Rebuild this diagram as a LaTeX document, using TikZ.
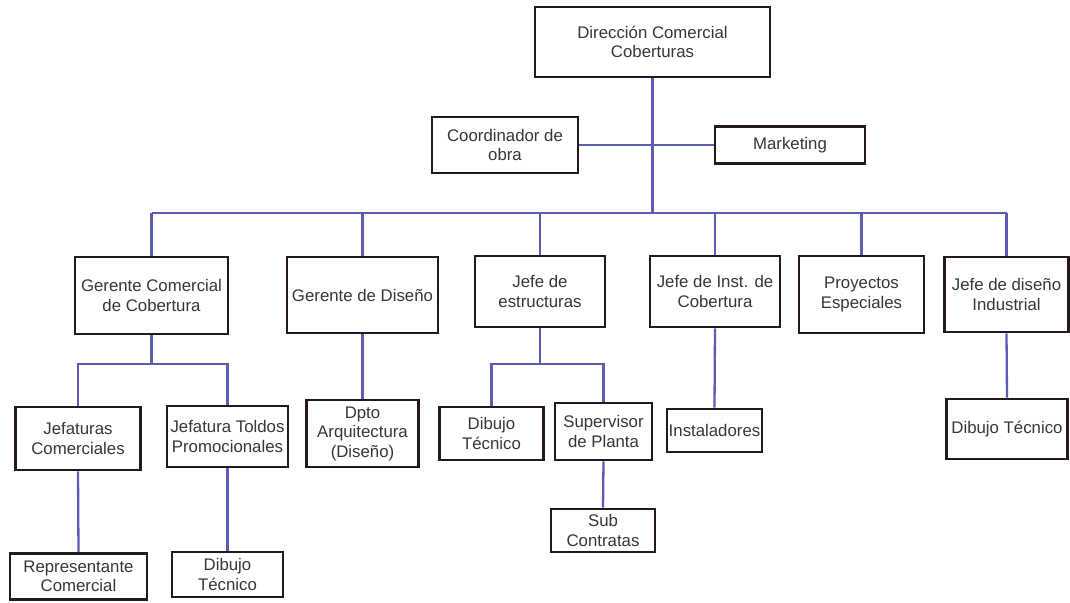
\documentclass[tikz,border=0pt]{standalone}
\usepackage{fontspec}
\setmainfont{Liberation Sans}
\begin{document}
\definecolor{wire}{RGB}{92,92,182}
\definecolor{frame}{RGB}{36,26,28}
\definecolor{ink}{RGB}{60,52,54}
\begin{tikzpicture}[x=1pt,y=-1pt,
  box/.style={draw=frame, line width=2.8pt, fill=white, inner sep=0pt,
    align=center, text=ink, font=\fontsize{16.8}{19.5}\selectfont},
  link/.style={draw=wire, line width=2.3pt}]
\useasboundingbox[fill=white] (0,0) rectangle (1070,602);

% top level
\node[box, minimum width=235, minimum height=70] (dir) at (652.5,42) {Dirección Comercial\\Coberturas};
\node[box, minimum width=146, minimum height=56] (coord) at (505,145) {Coordinador de\\obra};
\node[box, minimum width=150, minimum height=37] (mkt) at (790,145) {Marketing};

% second level
\node[box, minimum width=153, minimum height=77] (gcom) at (151.5,295.5) {Gerente Comercial\\de Cobertura};
\node[box, minimum width=151, minimum height=76] (gdis) at (362.5,295) {Gerente de Diseño};
\node[box, minimum width=130, minimum height=71] (jest) at (540,291.5) {Jefe de\\estructuras};
\node[box, minimum width=130, minimum height=71] (jinst) at (715,291.5) {Jefe de Inst. de\\Cobertura};
\node[box, minimum width=125, minimum height=77] (proy) at (861.5,294.5) {Proyectos\\Especiales};
\node[box, minimum width=124, minimum height=75] (jind) at (1006.5,294.5) {Jefe de diseño\\Industrial};

% third level
\node[box, minimum width=125, minimum height=63] (jcom) at (78,438.5) {Jefaturas\\Comerciales};
\node[box, minimum width=121, minimum height=61] (jtol) at (227.5,436.5) {Jefatura Toldos\\Promocionales};
\node[box, minimum width=112, minimum height=67] (dpto) at (362.5,433.5) {Dpto\\Arquitectura\\(Diseño)};
\node[box, minimum width=104, minimum height=53] (dtest) at (491.5,433.5) {Dibujo\\Técnico};
\node[box, minimum width=97, minimum height=57] (sup) at (603.5,431.5) {Supervisor\\de Planta};
\node[box, minimum width=95, minimum height=43] (inst) at (714.5,430.5) {Instaladores};
\node[box, minimum width=121, minimum height=60] (dtind) at (1007,429) {Dibujo Técnico};

% fourth level
\node[box, minimum width=137, minimum height=46] (rep) at (78.5,576.5) {Representante\\Comercial};
\node[box, minimum width=111, minimum height=45] (dttol) at (227.5,574.5) {Dibujo\\Técnico};
\node[box, minimum width=104, minimum height=43] (sub) at (603,530.5) {Sub\\Contratas};

% bus levels
\coordinate (bus) at (652.5,213);
\coordinate (gbus) at (0,364);

% connectors
\draw[link] (coord.east) -- (mkt.west);
\draw[link] (dir.south) -- (dir.south |- bus);
\draw[link] (gcom.north |- bus) -- (jind.north |- bus);
\foreach \n in {gcom,gdis,jest,jinst,proy,jind}
  \draw[link] (\n.north) -- (\n.north |- bus);

\draw[link] (gcom.south) -- (gcom.south |- gbus);
\draw[link] (jcom.north) -- (jcom.north |- gbus) -- (jtol.north |- gbus) -- (jtol.north);
\draw[link] (jcom.south) -- (rep.north);
\draw[link] (jtol.south) -- (dttol.north);

\draw[link] (gdis.south) -- (dpto.north);

\draw[link] (jest.south) -- (jest.south |- gbus);
\draw[link] (dtest.north) -- (dtest.north |- gbus) -- (sup.north |- gbus) -- (sup.north);
\draw[link] (sup.south) -- (sub.north);

\draw[link] (jinst.south) -- (inst.north);
\draw[link] (jind.south) -- (dtind.north);
\end{tikzpicture}
\end{document}
